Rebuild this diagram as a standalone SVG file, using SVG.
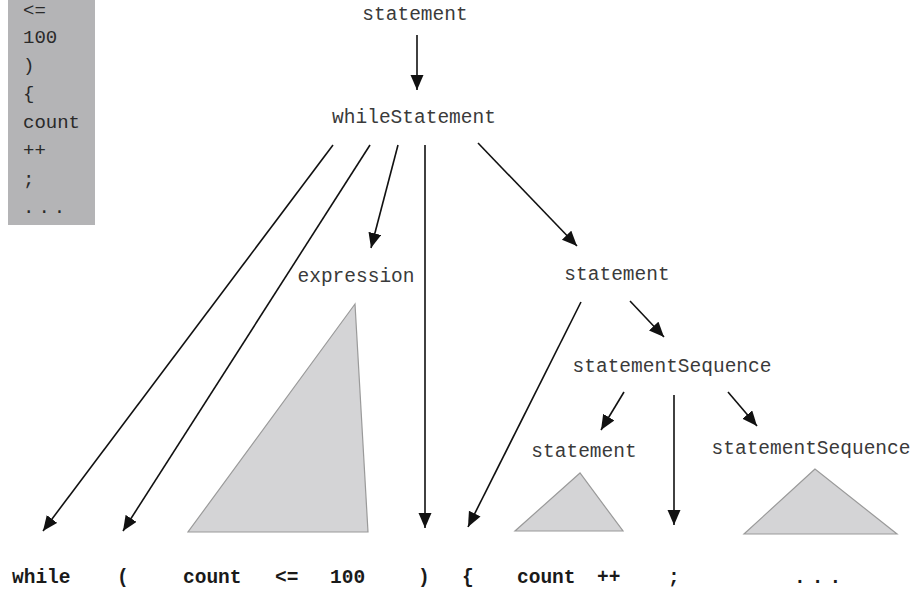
<svg xmlns="http://www.w3.org/2000/svg" width="924" height="593" viewBox="0 0 924 593">
<style>
.lbl{font-family:"Liberation Mono","Courier New",monospace;font-size:19.5px;fill:#3a3a3a;text-anchor:middle}
.tok{font-family:"Liberation Mono","Courier New",monospace;font-size:19.5px;font-weight:bold;fill:#1a1a1a}
.box{font-family:"Liberation Mono","Courier New",monospace;font-size:19px;fill:#2a2a2a}
.edge{stroke:#111;stroke-width:1.6;fill:none;marker-end:url(#ah)}
.tri{fill:#d4d4d6;stroke:#9a9a9a;stroke-width:1.2}
</style>
<defs>
<marker id="ah" markerUnits="userSpaceOnUse" markerWidth="16" markerHeight="14" refX="15" refY="6.5" orient="auto">
<path d="M0,0 L15,6.5 L0,13 z" fill="#111"/>
</marker>
</defs>
<rect width="924" height="593" fill="#ffffff"/>
<g id="tokens-box">
<rect x="8" y="0" width="87" height="225" fill="#b4b4b6"/>
<text class="box" x="23" y="16">&lt;=</text>
<text class="box" x="23" y="43">100</text>
<text class="box" x="23" y="71">)</text>
<text class="box" x="23" y="99">{</text>
<text class="box" x="23" y="128">count</text>
<text class="box" x="23" y="156">++</text>
<text class="box" x="23" y="185">;</text>
<text class="box" x="23" y="213" letter-spacing="4">...</text>
</g>
<g id="connectors">
<line class="edge" x1="417" y1="35" x2="417" y2="90"/>
<line class="edge" x1="333" y1="145" x2="43" y2="531"/>
<line class="edge" x1="370" y1="145" x2="123" y2="531"/>
<line class="edge" x1="398" y1="145" x2="371" y2="248"/>
<line class="edge" x1="425" y1="145" x2="425" y2="528"/>
<line class="edge" x1="478" y1="143" x2="577" y2="246"/>
<line class="edge" x1="581" y1="302" x2="468" y2="527"/>
<line class="edge" x1="630" y1="301" x2="664" y2="337"/>
<line class="edge" x1="624" y1="392" x2="601" y2="430"/>
<line class="edge" x1="674" y1="395" x2="674" y2="525"/>
<line class="edge" x1="728" y1="392" x2="757" y2="426"/>
</g>
<g id="n-statement-top"><text class="lbl" x="415" y="20">statement</text></g>
<g id="n-whileStatement"><text class="lbl" x="414" y="123">whileStatement</text></g>
<g id="n-expression">
<text class="lbl" x="356" y="282">expression</text>
<polygon class="tri" points="355,304 188,532 368,532"/>
</g>
<g id="n-statement-mid"><text class="lbl" x="617" y="280">statement</text></g>
<g id="n-statementSequence"><text class="lbl" x="672" y="372">statementSequence</text></g>
<g id="n-statement-low">
<text class="lbl" x="584" y="457">statement</text>
<polygon class="tri" points="580,473 515,531 623,531"/>
</g>
<g id="n-statementSequence-right">
<text class="lbl" x="811" y="454">statementSequence</text>
<polygon class="tri" points="815,469 744,534 897,534"/>
</g>
<g id="n-tokens">
<text class="tok" x="12" y="583">while</text>
<text class="tok" x="117" y="583">(</text>
<text class="tok" x="183" y="583">count</text>
<text class="tok" x="275" y="583">&lt;=</text>
<text class="tok" x="330" y="583">100</text>
<text class="tok" x="418" y="583">)</text>
<text class="tok" x="462" y="583">{</text>
<text class="tok" x="517" y="583">count</text>
<text class="tok" x="597" y="583">++</text>
<text class="tok" x="668" y="583">;</text>
<text class="tok" x="794" y="583" letter-spacing="6">...</text>
</g>
</svg>
